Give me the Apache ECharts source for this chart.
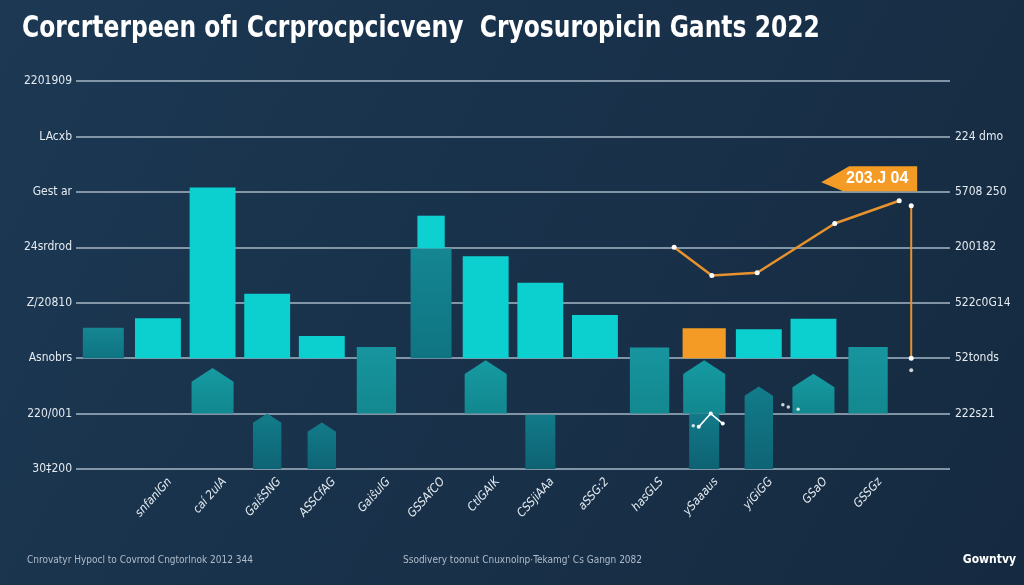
<!DOCTYPE html>
<html><head><meta charset="utf-8">
<script src="https://cdn.jsdelivr.net/npm/echarts@6/dist/echarts.min.js"></script>
<style>html,body{margin:0;padding:0;background:#182f46}#c{width:1024px;height:585px}</style>
</head><body><div id="c"></div>
<script>
// ---- data ----
const titleText = 'Corcrterpeen ofı Ccrprocpcicveny  Cryosuropicin Gants 2022';
const footLeft = 'Cnrovatyr Hypocl to Covrrod Cngtorlnok 2012 344';
const footMid = 'Ssodivery toonut Cnuxnolnp·Tekamg\' Cs Gangn 2082';
const brand = 'Gowntvy';
const categories = ['', 'snfanlGn', 'caí 2ulA', 'GaiŝSNG', 'ASSCfAG', 'GaiŝulG', 'GSSAfCO', 'CtlGAIK', 'CSSjiAAa', 'aSSG:2', 'hasGLS', 'ySaaaus', 'yiGiGG', 'GSaO', 'GSSGz', ''];
const leftLabels = ['30‡200', '220/001', 'Asnobrs', 'Z/20810', '24srdrod', 'Gest ar', 'LAcxb', '2201909'];
const rightLabels = ['', '222s21', '52tonds', '522c0G14', '200182', '5708 250', '224 dmo', ''];
const N = null;
// upper bars (start at 2)
const cyanTop      = [N, 2.72, 5.08, 3.16, 2.40, N, N, 3.84, 3.36, 2.78, N, N, 2.52, 2.71, N, N];
const deepTealTop  = [2.55, N, N, N, N, N, 3.98, N, N, N, N, N, N, N, N, N];
const capTop       = [N, N, N, N, N, N, 4.57, N, N, N, N, N, N, N, N, N]; // starts at deepTealTop
const orangeTop    = [N, N, N, N, N, N, N, N, N, N, N, 2.54, N, N, N, N];
// teal columns from 1 up
const tealColTop   = [N, N, N, N, N, 2.20, N, N, N, N, 2.19, N, N, N, 2.20, N];
// lower house-shaped bars from 1 up
const houseATop    = [N, N, 1.82, N, N, N, N, 1.96, N, N, N, 1.96, N, 1.72, N, N];
// lower bars from 0 up
const houseBTop    = [N, N, N, 1.00, 0.84, N, N, N, N, N, N, N, 1.49, N, N, N];
const rectBTop     = [N, N, N, N, N, N, N, N, 0.98, N, N, 1.00, N, N, N, N];
// orange line (x on 0..16 scale of category slots)
const lineX = [10.95, 11.64, 12.47, 13.89, 15.07];
const lineY = [4.00, 3.49, 3.54, 4.43, 4.84];
const dropX = 15.29, dropTop = 4.75, dropBottom = 2.00, dropDot = 1.78;
const tagLabel = '203.J 04';
// small white marks near the lower bars
const markX = [11.4, 11.62, 11.84];
const markY = [0.76, 1.00, 0.82];
const dotX = [11.3, 12.94, 13.04, 13.22];
const dotY = [0.78, 1.16, 1.12, 1.08];

// ---- helpers ----
function toData(lowArr, highArr) {
  const out = [];
  highArr.forEach((h, i) => {
    if (h == null) return;
    const lo = Array.isArray(lowArr) ? lowArr[i] : lowArr;
    out.push([i, lo, h]);
  });
  return out;
}
function shapeSeries(name, data, kind, wf, fill, z) {
  return {
    type: 'custom', name, data, z: z || 2,
    encode: { x: 0, y: [1, 2] },
    renderItem: function (params, api) {
      const x = api.value(0), lo = api.value(1), hi = api.value(2);
      const pLo = api.coord([x, lo]), pHi = api.coord([x, hi]);
      const w = api.size([1, 0])[0] * wf;
      const l = pLo[0] - w / 2, r = pLo[0] + w / 2;
      let pts;
      if (kind === 'house') {
        const rise = w / 2 * 0.65;
        pts = [[l, pLo[1]], [l, pHi[1] + rise], [pLo[0], pHi[1]], [r, pHi[1] + rise], [r, pLo[1]]];
      } else {
        pts = [[l, pLo[1]], [l, pHi[1]], [r, pHi[1]], [r, pLo[1]]];
      }
      return { type: 'polygon', shape: { points: pts }, style: { fill: fill } };
    }
  };
}
const G = (a, b) => new echarts.graphic.LinearGradient(0, 0, 0, 1, [{ offset: 0, color: a }, { offset: 1, color: b }]);

const chart = echarts.init(document.getElementById('c'));
const labelFont = "'Liberation Sans Narrow','DejaVu Sans Condensed',sans-serif";
chart.setOption({
  animation: false,
  backgroundColor: new echarts.graphic.LinearGradient(0, 0, 1, 1, [
    { offset: 0, color: '#1c3853' }, { offset: 1, color: '#152a40' }]),
  title: [
    { text: footLeft, left: 22, top: 550, textStyle: { color: '#aebccb', fontSize: 10, fontWeight: 'normal', fontFamily: labelFont } },
    { text: footMid, left: 398, top: 550, textStyle: { color: '#aebccb', fontSize: 10, fontWeight: 'normal', fontFamily: labelFont } },
    { text: brand, right: 3, top: 549, textStyle: { color: '#ffffff', fontSize: 12, fontWeight: 'bold', fontFamily: labelFont } }
  ],
  graphic: [
    { type: 'text', x: 22, y: 13, scaleX: 0.84, silent: true,
      style: { text: titleText, fill: '#ffffff', font: "bold 31px 'Liberation Sans Narrow','DejaVu Sans Condensed',sans-serif", textAlign: 'left', textVerticalAlign: 'top' } }
  ],
  grid: { left: 76, right: 74, top: 81, bottom: 116 },
  xAxis: [
    { type: 'category', data: categories, boundaryGap: true,
      axisLine: { show: false }, axisTick: { show: false },
      axisLabel: { rotate: 48, margin: 0, color: '#e3eaf0', fontSize: 12, fontStyle: 'italic', fontFamily: labelFont, interval: 0,
        verticalAlign: 'top', padding: [10, 0, 0, 0] } },
    { type: 'value', min: 0, max: 16, show: false }
  ],
  yAxis: [
    { type: 'value', min: 0, max: 7, interval: 1,
      axisLine: { show: false }, axisTick: { show: false },
      axisLabel: { color: '#e3eaf0', fontSize: 12, margin: 4, fontFamily: labelFont, formatter: v => leftLabels[v] },
      splitLine: { lineStyle: { color: '#a6b7c6', width: 1.5 } } },
    { type: 'value', min: 0, max: 7, interval: 1, position: 'right',
      axisLine: { show: false }, axisTick: { show: false }, splitLine: { show: false },
      axisLabel: { color: '#e3eaf0', fontSize: 12, margin: 5, fontFamily: labelFont, formatter: v => rightLabels[v] } }
  ],
  series: [
    shapeSeries('lowB-house', toData(0, houseBTop), 'house', 0.52, G('#127c8a', '#0e6474'), 2),
    shapeSeries('lowB-rect', toData(0, rectBTop), 'rect', 0.55, G('#127a89', '#0e6272'), 2),
    shapeSeries('lowA-house', toData(1, houseATop), 'house', 0.77, G('#169aa1', '#12878f'), 3),
    shapeSeries('tealCol', toData(1, tealColTop), 'rect', 0.72, G('#17959f', '#13888f'), 3),
    shapeSeries('deepTeal', toData(2, deepTealTop), 'rect', 0.75, G('#158692', '#0f7482'), 3),
    shapeSeries('cap', toData(deepTealTop, capTop), 'rect', 0.5, '#0fd0d0', 3),
    shapeSeries('cyan', toData(2, cyanTop), 'rect', 0.84, '#0cd0d0', 3),
    shapeSeries('orange', toData(2, orangeTop), 'rect', 0.79, '#f49b25', 3),
    {
      type: 'line', xAxisIndex: 1, yAxisIndex: 0, z: 5,
      data: lineX.map((x, i) => [x, lineY[i]]),
      lineStyle: { color: '#e8922e', width: 2.5 },
      symbol: 'circle', symbolSize: 5, itemStyle: { color: '#ffffff', borderWidth: 0 },
      markPoint: {
        symbol: 'path://M0,16 L28,0 L96,0 L96,25 L22,25 Z',
        symbolSize: [96, 25], symbolOffset: [-30, -22],
        itemStyle: { color: '#f49b25' },
        label: { show: true, formatter: tagLabel, color: '#ffffff', fontSize: 16, fontWeight: 'bold', offset: [8, 0], fontFamily: "'Liberation Sans',sans-serif" },
        data: [{ coord: [lineX[lineX.length - 1], lineY[lineY.length - 1]] }]
      }
    },
    {
      type: 'line', xAxisIndex: 1, yAxisIndex: 0, z: 5,
      data: [[dropX, dropTop], [dropX, dropBottom]],
      lineStyle: { color: '#e8922e', width: 2 },
      symbol: 'circle', symbolSize: 5, itemStyle: { color: '#ffffff' }
    },
    {
      type: 'scatter', xAxisIndex: 1, yAxisIndex: 0, z: 5,
      data: [[dropX, dropDot]], symbolSize: 4, itemStyle: { color: '#ffffff' }
    },
    {
      type: 'line', xAxisIndex: 1, yAxisIndex: 0, z: 6,
      data: markX.map((x, i) => [x, markY[i]]),
      lineStyle: { color: '#ffffff', width: 1.5 },
      symbol: 'circle', symbolSize: 4, itemStyle: { color: '#ffffff' }
    },
    {
      type: 'scatter', xAxisIndex: 1, yAxisIndex: 0, z: 6,
      data: dotX.map((x, i) => [x, dotY[i]]), symbolSize: 3.5, itemStyle: { color: '#ffffff' }
    }
  ]
});
</script>
</body></html>
